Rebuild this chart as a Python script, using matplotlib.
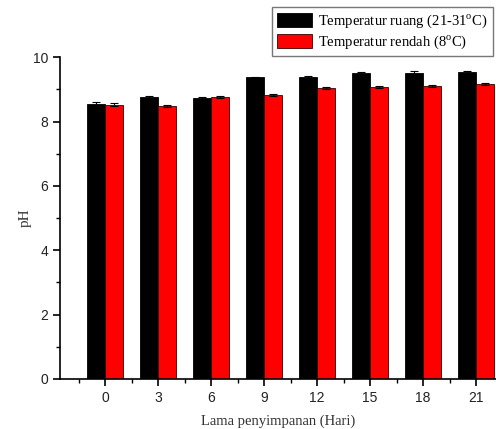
import matplotlib
matplotlib.use("Agg")
import matplotlib.pyplot as plt
import numpy as np

plt.rcParams["mathtext.fontset"] = "custom"
plt.rcParams["mathtext.rm"] = "Liberation Serif"

days = [0, 3, 6, 9, 12, 15, 18, 21]
ph_room = [8.56, 8.76, 8.73, 9.37, 9.39, 9.50, 9.52, 9.54]
ph_cold = [8.53, 8.49, 8.76, 8.82, 9.05, 9.07, 9.12, 9.17]
err_room = [0.05, 0.05, 0.04, 0.03, 0.03, 0.03, 0.04, 0.02]
err_cold = [0.06, 0.04, 0.03, 0.03, 0.03, 0.03, 0.03, 0.03]
labels = ["Temperatur ruang (21-31$^{\\rm o}$C)", "Temperatur rendah (8$^{\\rm o}$C)"]

fig = plt.figure(figsize=(4.96, 4.29), dpi=100)
ax = fig.add_axes([0.121, 0.1166, 0.879, 0.750])

x = np.array(days, dtype=float)
w = 1.0
ax.bar(x - w / 2, ph_room, width=w, color="black", edgecolor="black", linewidth=0.6,
       yerr=err_room, capsize=3, error_kw=dict(ecolor="black", elinewidth=0.8, capthick=0.8),
       label=labels[0])
ax.bar(x + w / 2, ph_cold, width=w, color="#ff0000", edgecolor="#3a0000", linewidth=0.6,
       yerr=err_cold, capsize=3, error_kw=dict(ecolor="black", elinewidth=0.8, capthick=0.8),
       label=labels[1])

ax.set_xlim(-2.55, 22.13)
ax.set_ylim(0, 10)
ax.set_xticks(days)
ax.set_xticks(np.arange(-1.5, 22.5, 3), minor=True)
ax.set_yticks(np.arange(0, 11, 2))
ax.set_yticks(np.arange(1, 10, 2), minor=True)

for s in ("top", "right"):
    ax.spines[s].set_visible(False)
for s in ("left", "bottom"):
    ax.spines[s].set_linewidth(1.2)

ax.tick_params(axis="both", which="major", direction="out", length=5, width=1.2,
               labelsize=10, labelcolor="#222222")
ax.tick_params(axis="both", which="minor", direction="out", length=3, width=1.0)
for lab in ax.get_xticklabels() + ax.get_yticklabels():
    lab.set_fontfamily("Liberation Sans")

ax.set_xlabel("Lama penyimpanan (Hari)", fontfamily="Liberation Serif", fontsize=10.5,
              color="#333333", labelpad=7)
ax.set_ylabel("pH", fontfamily="Liberation Serif", fontsize=11, color="#333333", labelpad=1)

leg = fig.legend(loc="upper left", bbox_to_anchor=(272 / 496, 1 - 7 / 429),
                 prop={"family": "Liberation Serif", "size": 10.5},
                 frameon=True, fancybox=False, edgecolor="#555555",
                 handlelength=2.4, handleheight=1.1, handletextpad=0.4,
                 borderpad=0.35, labelspacing=0.25, borderaxespad=0)
leg.get_frame().set_linewidth(1.0)

fig.savefig("out.png", dpi=100)
